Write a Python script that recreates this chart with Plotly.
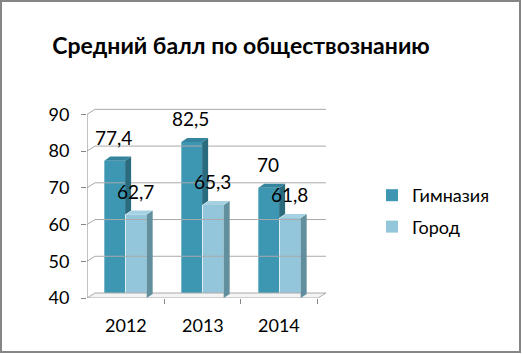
import plotly.graph_objects as go

years = ["2012", "2013", "2014"]
gimnaziya = [77.4, 82.5, 70.0]
gorod = [62.7, 65.3, 61.8]
yticks = [40, 50, 60, 70, 80, 90]

FONT = "Lato"
W, H = 522, 354
L, R, T, B = 87, 196, 107, 56
pw, ph = W - L - R, H - T - B

xpos = list(range(len(years)))
bw = 0.27          # bar width (category units)
bdx, bdy = 0.078, 1.09   # bar depth offsets
wdx, wdy = 0.104, 1.36   # wall depth offsets
ymin = yticks[0]

c_g = dict(front="#3e97b2", side="#2a6b7e", top="#33849c")
c_c = dict(front="#93c6db", side="#628f9e", top="#a6d1e2")

fig = go.Figure()

# back-wall gridlines
for v in yticks[1:]:
    fig.add_trace(go.Scatter(x=[-0.5, -0.5 + wdx, 2.5 + wdx], y=[v, v + wdy, v + wdy],
                             mode="lines", line=dict(color="#aaaaaa", width=1),
                             hoverinfo="skip", showlegend=False))
# floor
fig.add_trace(go.Scatter(x=[-0.5, 2.5, 2.5 + wdx, -0.5 + wdx, -0.5],
                         y=[ymin, ymin, ymin + wdy, ymin + wdy, ymin],
                         mode="lines", fill="toself", fillcolor="#f4f4f4",
                         line=dict(color="#aaaaaa", width=1),
                         hoverinfo="skip", showlegend=False))

fig.add_trace(go.Bar(x=xpos, y=gimnaziya, width=bw, offset=-bw - 0.005, name="Гимназия",
                     marker=dict(color=c_g["front"], line=dict(width=0)), legendgroup="a"))
fig.add_trace(go.Bar(x=xpos, y=gorod, width=bw, offset=0.005, name="Город",
                     marker=dict(color=c_c["front"], line=dict(width=0)), legendgroup="b"))

def faces(x0, x1, v, bottom, col):
    # side
    fig.add_trace(go.Scatter(x=[x1, x1 + bdx, x1 + bdx, x1, x1],
                             y=[v, v + bdy, bottom + bdy, bottom, v],
                             mode="lines", fill="toself", fillcolor=col["side"],
                             line=dict(width=0), hoverinfo="skip", showlegend=False))
    # top
    fig.add_trace(go.Scatter(x=[x0, x0 + bdx, x1 + bdx, x1, x0],
                             y=[v, v + bdy, v + bdy, v, v],
                             mode="lines", fill="toself", fillcolor=col["top"],
                             line=dict(width=0), hoverinfo="skip", showlegend=False))

for i in xpos:
    faces(i - bw - 0.005, i - 0.005, gimnaziya[i], max(gorod[i], ymin), c_g)
    faces(i + 0.005, i + bw + 0.005, gorod[i], ymin, c_c)

# y axis line
fig.add_trace(go.Scatter(x=[-0.5, -0.5], y=[ymin, yticks[-1]], mode="lines",
                         line=dict(color="#868686", width=1), hoverinfo="skip", showlegend=False))

def fmt(v):
    s = ("%.1f" % v).rstrip("0").rstrip(".")
    return s.replace(".", ",")

ann = []
for i in xpos:
    ann.append(dict(x=i - bw / 2 - 0.02, y=gimnaziya[i], text=fmt(gimnaziya[i]), showarrow=False,
                    yanchor="bottom", yshift=10, font=dict(family=FONT, size=19, color="#000")))
    ann.append(dict(x=i + bw / 2 + 0.0, y=gorod[i], text=fmt(gorod[i]), showarrow=False,
                    yanchor="bottom", yshift=10, font=dict(family=FONT, size=19, color="#000")))
    ann.append(dict(x=i, y=ymin, text=years[i], showarrow=False, yanchor="top", yshift=-14,
                    font=dict(family=FONT, size=18, color="#000")))

fig.update_layout(
    width=W, height=H, margin=dict(l=L, r=R, t=T, b=B),
    paper_bgcolor="white", plot_bgcolor="white",
    barmode="overlay", annotations=ann,
    title=dict(text="<b>Средний балл по обществознанию</b>", x=241 / W, xanchor="center",
               xref="container", y=1 - 46 / H, yanchor="middle", yref="container",
               font=dict(family=FONT, size=23, color="#000")),
    xaxis=dict(range=[-0.5, 2.5 + wdx], tickvals=[0.5, 1.5, 2.5], showticklabels=False,
               ticks="outside", ticklen=5, tickcolor="#868686", showgrid=False,
               zeroline=False, showline=False),
    yaxis=dict(range=[ymin, 92], tickvals=yticks, ticks="outside", ticklen=5,
               tickcolor="#868686", showgrid=False, zeroline=False, showline=False,
               ticklabelstandoff=8, tickfont=dict(family=FONT, size=18, color="#000")),
    legend=dict(x=(372 - L) / pw, xanchor="left", y=(298 - 177) / ph, yanchor="top",
                font=dict(family=FONT, size=18, color="#000"), tracegroupgap=5,
                itemwidth=30, bgcolor="rgba(0,0,0,0)"),
    shapes=[dict(type="rect", xref="paper", yref="paper",
                 x0=(1 - L) / pw, x1=(520 - L) / pw, y0=(298 - 352) / ph, y1=(298 - 1) / ph,
                 line=dict(color="#868686", width=2), layer="above")],
    showlegend=True,
)

fig.write_html("out.html")
